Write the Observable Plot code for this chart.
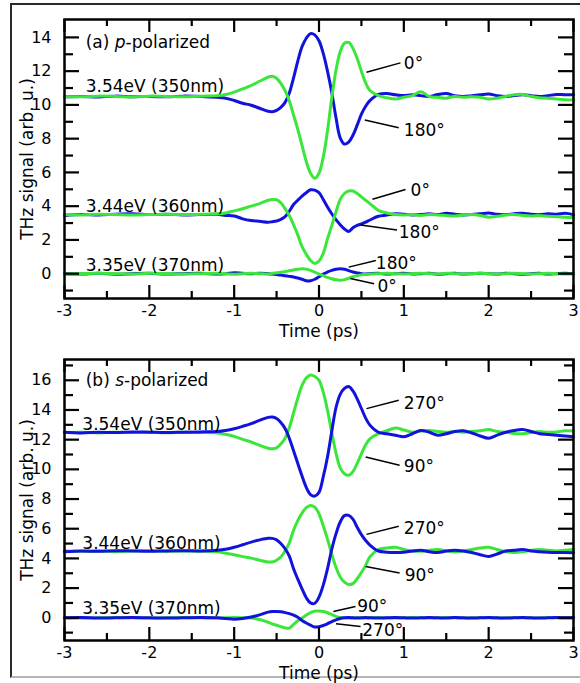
<!DOCTYPE html>
<html><head><meta charset="utf-8">
<script src="https://cdn.jsdelivr.net/npm/d3@7"></script>
<script src="https://cdn.jsdelivr.net/npm/@observablehq/plot@0.6"></script>
<style>
html,body{margin:0;padding:0;background:#fff;}
#wrap{position:relative;width:580px;height:683px;overflow:hidden;font-family:"DejaVu Sans",sans-serif;}
#border{position:absolute;left:10px;top:3px;width:700px;height:675px;border:2px solid #2a2a2a;border-bottom-color:#b4b4b4;box-sizing:border-box;}
.panel{position:absolute;left:0;}
.panel svg{display:block;}
</style></head><body>
<div id="wrap"><div id="border"></div><div id="pa" class="panel" style="top:0px"></div><div id="pb" class="panel" style="top:340px"></div></div>
<script>
// ---- shared time grid (ps) ----
const time = [-3.0,-2.8,-2.6,-2.4,-2.2,-2.0,-1.8,-1.6,-1.4,-1.2,
  -1.1,-1.0,-0.9,-0.8,-0.7,-0.6,
  -0.55,-0.5,-0.45,-0.4,-0.35,-0.3,-0.25,-0.2,-0.15,-0.1,-0.05,0.0,0.05,0.1,0.15,0.2,0.25,0.3,0.35,0.4,0.45,0.5,0.55,0.6,
  0.7,0.8,0.9,1.0,1.1,1.2,1.3,1.4,1.5,1.6,1.7,1.8,1.9,2.0,2.1,2.2,2.3,2.4,2.5,2.6,2.7,2.8,2.9,3.0];

// ---- panel (a) p-polarized ----
const a350_180 = [10.48,10.5,10.47,10.52,10.49,10.5,10.48,10.52,10.5,10.45,
  10.4,10.26,10.1,9.98,9.8,9.62,
  9.6,9.68,9.85,10.15,10.7,11.6,12.6,13.45,13.95,14.22,14.15,13.8,13.05,12.0,10.75,9.25,8.05,7.68,7.8,8.2,8.8,9.45,9.92,10.25,
  10.62,10.68,10.6,10.55,10.6,10.55,10.5,10.62,10.68,10.55,10.5,10.55,10.6,10.65,10.55,10.5,10.55,10.6,10.55,10.5,10.55,10.62,10.6,10.6];
const a350_0 = [10.5,10.48,10.52,10.5,10.47,10.52,10.5,10.48,10.52,10.55,
  10.62,10.76,10.95,11.15,11.4,11.65,
  11.7,11.58,11.28,10.85,10.25,9.4,8.55,7.6,6.65,5.95,5.65,5.95,6.9,8.45,10.4,12.05,13.15,13.65,13.7,13.35,12.75,12.0,11.3,10.85,
  10.55,10.42,10.35,10.45,10.55,10.78,10.5,10.45,10.4,10.5,10.45,10.48,10.45,10.35,10.4,10.5,10.6,10.62,10.5,10.42,10.4,10.35,10.3,10.3];
const a360_180 = [3.45,3.5,3.48,3.52,3.55,3.5,3.52,3.48,3.5,3.52,
  3.45,3.42,3.25,3.15,3.1,3.05,
  3.08,3.12,3.22,3.38,3.7,4.1,4.35,4.6,4.8,4.97,4.95,4.8,4.4,3.95,3.55,3.2,2.9,2.65,2.5,2.72,2.86,2.95,3.05,3.18,
  3.4,3.47,3.55,3.52,3.48,3.5,3.55,3.5,3.58,3.52,3.48,3.5,3.55,3.6,3.52,3.5,3.55,3.58,3.52,3.5,3.55,3.52,3.58,3.5];
const a360_0 = [3.5,3.48,3.52,3.5,3.48,3.5,3.52,3.5,3.52,3.55,
  3.6,3.72,3.85,4.0,4.15,4.35,
  4.4,4.38,4.2,3.85,3.45,2.9,2.3,1.6,1.15,0.78,0.6,0.75,1.2,2.06,2.85,3.65,4.4,4.75,4.9,4.9,4.75,4.55,4.35,4.15,
  3.75,3.6,3.5,3.48,3.5,3.45,3.5,3.48,3.45,3.42,3.48,3.5,3.45,3.35,3.4,3.48,3.5,3.45,3.42,3.45,3.4,3.38,3.35,3.33];
const a370_180 = [0.0,-0.02,0.02,-0.03,0.0,0.02,-0.02,0.0,0.02,-0.02,
  0.0,0.05,0.02,0.0,0.03,0.0,
  -0.02,-0.05,-0.08,-0.12,-0.16,-0.2,-0.26,-0.33,-0.42,-0.42,-0.33,-0.18,-0.02,0.1,0.2,0.26,0.29,0.26,0.18,0.1,0.04,0.0,-0.02,0.0,
  0.02,-0.02,0.0,0.03,-0.02,0.0,0.02,-0.03,0.0,0.02,-0.02,0.0,0.03,0.0,-0.02,0.02,0.0,-0.03,0.0,0.02,-0.02,0.0,0.02,0.0];
const a370_0 = [-0.02,0.0,0.02,0.0,-0.02,0.02,0.0,-0.02,0.0,0.02,
  0.0,-0.03,0.0,0.02,0.0,-0.02,
  0.02,0.05,0.08,0.12,0.17,0.22,0.26,0.29,0.27,0.2,0.1,-0.02,-0.12,-0.22,-0.3,-0.36,-0.39,-0.35,-0.27,-0.18,-0.12,-0.07,-0.04,-0.02,
  0.0,0.02,0.0,-0.02,0.0,0.02,0.0,-0.02,0.02,0.0,-0.02,0.0,0.02,0.0,-0.02,0.0,0.02,0.0,-0.02,0.0,0.02,0.0,-0.02,0.0];

// ---- panel (b) s-polarized ----
const b350_90 = [12.48,12.5,12.45,12.5,12.48,12.5,12.47,12.5,12.48,12.45,
  12.35,12.22,12.02,11.84,11.62,11.42,
  11.38,11.45,11.7,12.1,12.8,13.8,14.8,15.65,16.15,16.35,16.25,16.0,15.2,13.98,12.5,11.1,10.1,9.7,9.6,9.85,10.4,11.05,11.65,12.05,
  12.4,12.6,12.78,12.65,12.5,12.58,12.62,12.55,12.5,12.55,12.5,12.55,12.6,12.68,12.55,12.5,12.42,12.4,12.48,12.55,12.5,12.52,12.6,12.58];
const b350_270 = [12.5,12.45,12.5,12.48,12.52,12.5,12.48,12.5,12.52,12.55,
  12.62,12.74,12.9,13.08,13.3,13.5,
  13.52,13.42,13.15,12.75,12.1,11.25,10.4,9.55,8.78,8.3,8.2,8.45,9.5,10.83,12.55,14.15,15.05,15.45,15.58,15.28,14.75,14.1,13.45,12.98,
  12.5,12.4,12.3,12.2,12.4,12.62,12.5,12.3,12.4,12.55,12.6,12.45,12.25,12.1,12.3,12.5,12.62,12.68,12.55,12.4,12.35,12.3,12.25,12.2];
const b360_270 = [4.45,4.5,4.48,4.52,4.5,4.48,4.5,4.52,4.5,4.55,
  4.62,4.75,4.92,5.1,5.25,5.36,
  5.35,5.25,5.0,4.65,4.15,3.3,2.6,1.95,1.35,1.0,0.98,1.39,2.2,3.3,4.6,5.65,6.45,6.88,6.9,6.65,6.1,5.6,5.21,4.9,
  4.5,4.42,4.4,4.42,4.5,4.55,4.45,4.4,4.5,4.55,4.5,4.4,4.25,4.13,4.3,4.5,4.55,4.6,4.5,4.45,4.42,4.4,4.4,4.38];
const b360_90 = [4.5,4.48,4.5,4.45,4.5,4.52,4.48,4.5,4.48,4.45,
  4.35,4.25,4.12,4.02,3.88,3.76,
  3.76,3.88,4.1,4.5,5.05,5.9,6.55,7.05,7.42,7.57,7.45,7.01,6.2,5.3,4.3,3.4,2.75,2.4,2.24,2.3,2.63,3.05,3.53,4.1,
  4.6,4.7,4.75,4.6,4.5,4.48,4.55,4.6,4.5,4.45,4.5,4.6,4.7,4.75,4.6,4.45,4.4,4.45,4.55,4.6,4.55,4.5,4.55,4.6];
const b370_270 = [0.0,0.02,-0.02,0.0,0.02,0.0,-0.02,0.0,0.02,0.0,
  -0.05,-0.1,-0.05,0.05,0.2,0.38,
  0.42,0.42,0.4,0.35,0.28,0.18,0.03,-0.18,-0.35,-0.5,-0.62,-0.6,-0.52,-0.4,-0.26,-0.14,-0.05,0.0,0.02,0.0,-0.02,0.0,0.02,0.0,
  -0.02,0.0,0.02,0.0,-0.02,0.0,0.02,0.0,-0.02,0.02,0.0,-0.02,0.0,0.02,0.0,-0.02,0.0,0.02,0.0,-0.02,0.0,0.02,0.0,0.0];
const b370_90 = [0.0,-0.02,0.0,0.02,0.0,-0.02,0.0,0.02,0.0,-0.02,
  0.0,0.02,0.0,-0.02,-0.12,-0.3,
  -0.42,-0.5,-0.6,-0.68,-0.7,-0.45,-0.2,-0.02,0.18,0.35,0.45,0.46,0.42,0.34,0.22,0.1,0.02,0.0,-0.02,0.0,0.02,0.0,-0.02,0.0,
  0.02,0.0,-0.02,0.0,0.02,0.0,-0.02,0.0,0.02,0.0,-0.02,0.0,0.02,0.0,-0.02,0.0,0.02,0.0,-0.02,0.0,0.02,0.0,-0.02,0.0];

// ---- ticks & labels ----
const xMajor = [-3,-2,-1,0,1,2,3];
const xMinor = [-2.5,-1.5,-0.5,0.5,1.5,2.5];
const yMajorA = [0,2,4,6,8,10,12,14];
const yMinorA = [-1,1,3,5,7,9,11,13];
const yMajorB = [0,2,4,6,8,10,12,14,16];
const yMinorB = [-1,1,3,5,7,9,11,13,15,17];
const xTitle = "Time (ps)";
const yTitle = "THz signal (arb. u.)";
const energies = ["3.54eV (350nm)","3.44eV (360nm)","3.35eV (370nm)"];
const energyYA = [10.74, 3.68, 0.15];
const energyYB = [12.63, 4.65, 0.27];
const energyXA = -2.75, energyXB = -2.79;
const panelPrefix = ["(a) ","(b) "];
const panelPol = ["p","s"];
const panelSuffix = "-polarized";
const panelLabelPos = [[-2.75, 13.37],[-2.75, 15.6]];

const anglesA = ["0°","180°","0°","180°","180°","0°"];
const angXA = [1.0, 1.0, 1.08, 0.94, 0.67, 0.69];
const angYA = [12.47, 8.46, 4.9, 2.45, 0.62, -0.75];
const leadA = [[0.56,11.94,0.96,12.49],[0.54,9.11,0.94,8.65],[0.63,4.41,1.02,4.99],[0.49,2.88,0.92,2.59],[0.35,0.39,0.67,0.78],[0.37,-0.29,0.65,-0.59]];
const anglesB = ["270°","90°","270°","90°","90°","270°"];
const angXB = [1.0, 1.0, 1.0, 1.01, 0.45, 0.51];
const angYB = [14.42, 10.16, 6.0, 2.85, 0.76, -0.86];
const leadB = [[0.56,14.09,0.94,14.65],[0.55,10.83,0.95,10.27],[0.56,5.62,0.94,6.16],[0.55,3.46,0.95,3.01],[0.17,0.42,0.43,0.76],[0.2,-0.4,0.49,-0.59]];

const BLUE = "#1212dd", GREEN = "#3be63b";
const fmt = d => String(d);

function series(vals){ return time.map((t,i)=>({t, v: vals[i]})); }

function panel(el, opts){
  const W = 580, H = opts.height, mL = 64, mR = 7, mT = opts.mT, mB = opts.mB;
  const iW = W - mL - mR, iH = H - mT - mB;
  const tk = {stroke:"#000", strokeWidth:2.2};
  const lines = opts.lines.map(([vals,color]) => Plot.line(series(vals), {x:"t", y:"v", stroke:color, strokeWidth:3, curve:"catmull-rom"}));
  const svg = Plot.plot({
    width: W, height: H, marginLeft: mL, marginRight: mR, marginTop: mT, marginBottom: mB,
    x: {domain:[-3,3]}, y: {domain: opts.yDomain},
    style: {fontFamily:"DejaVu Sans", color:"#000", background:"transparent", overflow:"visible"},
    marks: [
      ...lines,
      Plot.link(opts.lead, {x1:d=>d[0], y1:d=>d[1], x2:d=>d[2], y2:d=>d[3], stroke:"#000", strokeWidth:1.5}),
      Plot.text(opts.angles, {x:(d,i)=>opts.angX[i], y:(d,i)=>opts.angY[i], text:d=>d, textAnchor:"start", lineAnchor:"middle", fontSize:17, fill:"#000"}),
      Plot.text(energies, {x:()=>opts.energyX, y:(d,i)=>opts.energyY[i], text:d=>d, textAnchor:"start", lineAnchor:"bottom", fontSize:17, fill:"#000"}),
      Plot.text([opts.label], {x:()=>opts.labelPos[0], y:()=>opts.labelPos[1], text:d=>d, textAnchor:"start", lineAnchor:"bottom", fontSize:17, fill:"#000"}),
      Plot.frame({stroke:"#000", strokeWidth:2.5}),
      Plot.tickX(xMajor, {x:d=>d, insetTop: iH-13, ...tk}),
      Plot.tickX(xMajor, {x:d=>d, insetBottom: iH-13, ...tk}),
      Plot.tickX(xMinor, {x:d=>d, insetTop: iH-7, ...tk}),
      Plot.tickX(xMinor, {x:d=>d, insetBottom: iH-7, ...tk}),
      Plot.tickY(opts.yMajor, {y:d=>d, insetRight: iW-15, ...tk}),
      Plot.tickY(opts.yMajor, {y:d=>d, insetLeft: iW-15, ...tk}),
      Plot.tickY(opts.yMinor, {y:d=>d, insetRight: iW-9, ...tk}),
      Plot.tickY(opts.yMinor, {y:d=>d, insetLeft: iW-9, ...tk}),
      Plot.axisX({ticks: xMajor, tickSize:0, tickPadding:6, tickFormat: fmt, fontSize:16, label:null}),
      Plot.axisY({ticks: opts.yMajor, tickSize:0, tickPadding:13, tickFormat: fmt, fontSize:16, label:null}),
      Plot.text([xTitle], {frameAnchor:"bottom", lineAnchor:"top", dy:26, text:d=>d, fontSize:17, fill:"#000"}),
      Plot.text([yTitle], {frameAnchor:"left", rotate:-90, dx:-44, lineAnchor:"top", textAnchor:"middle", text:d=>d, fontSize:17, fill:"#000"})
    ]
  });
  d3.select(svg).selectAll("text").filter(function(){ return this.textContent === opts.label; }).each(function(){
    const t = d3.select(this); t.text(null);
    t.append("tspan").text(opts.prefix);
    t.append("tspan").attr("font-style","italic").text(opts.pol);
    t.append("tspan").text(panelSuffix);
  });
  document.getElementById(el).appendChild(svg);
}

panel("pa", {height:340, mT:19, mB:42, yDomain:[-1.47,15.06], yMajor:yMajorA, yMinor:yMinorA,
  lines:[[a350_180,BLUE],[a350_0,GREEN],[a360_180,BLUE],[a360_0,GREEN],[a370_180,BLUE],[a370_0,GREEN]],
  lead:leadA, angles:anglesA, angX:angXA, angY:angYA, energyX:energyXA, energyY:energyYA,
  label: panelPrefix[0]+panelPol[0]+panelSuffix, prefix:panelPrefix[0], pol:panelPol[0], labelPos:panelLabelPos[0]});
panel("pb", {height:343, mT:19, mB:43, yDomain:[-1.53,17.4], yMajor:yMajorB, yMinor:yMinorB,
  lines:[[b350_90,GREEN],[b350_270,BLUE],[b360_90,GREEN],[b360_270,BLUE],[b370_90,GREEN],[b370_270,BLUE]],
  lead:leadB, angles:anglesB, angX:angXB, angY:angYB, energyX:energyXB, energyY:energyYB,
  label: panelPrefix[1]+panelPol[1]+panelSuffix, prefix:panelPrefix[1], pol:panelPol[1], labelPos:panelLabelPos[1]});
</script></body></html>
